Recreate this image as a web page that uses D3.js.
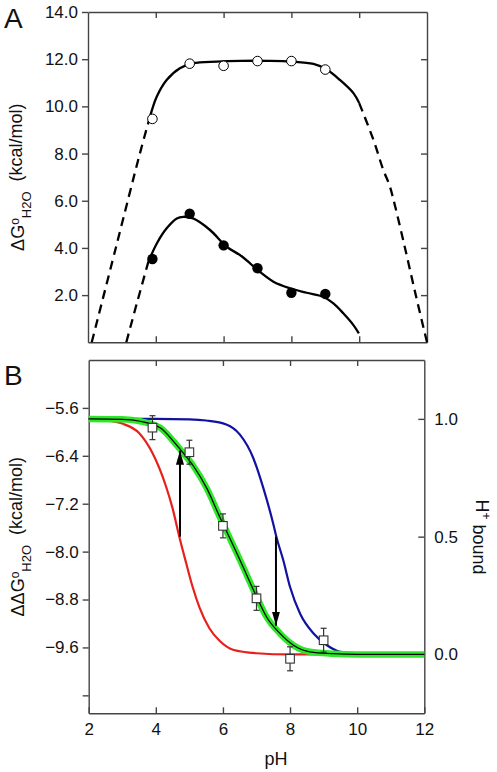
<!DOCTYPE html>
<html><head><meta charset="utf-8">
<script src="https://cdn.jsdelivr.net/npm/d3@7"></script>
<style>
body{margin:0;background:#fff}
svg{display:block}
text{font-family:"Liberation Sans",Arial,Helvetica,sans-serif;fill:#111}
</style>
</head><body>
<svg id="c" width="497" height="772"></svg>
<script>
// ---------- Panel A data ----------
const phA = [3.9, 5, 6, 7, 8, 9];
const openDG = [9.47, 11.81, 11.72, 11.92, 11.92, 11.56];
const filledDG = [3.53, 5.45, 4.11, 3.14, 2.10, 2.05];

const upSolidPH = [3.83, 4.03, 4.32, 4.71, 5.1, 5.8, 6.5, 7.3, 8.0, 8.65, 9.02, 9.43, 9.83, 10.0];
const upSolidDG = [9.57, 10.42, 11.12, 11.62, 11.83, 11.9, 11.93, 11.93, 11.9, 11.8, 11.58, 11.12, 10.56, 10.14];
const upDashLPH = [2.11, 2.82, 3.53, 3.83];
const upDashLDG = [0, 4.0, 8.0, 9.57];
const upDashRPH = [10.0, 10.42, 10.71, 10.89, 11.0, 11.32, 11.68, 12.0];
const upDashRDG = [10.14, 8.58, 7.31, 6.67, 6.11, 4.19, 1.93, 0];

const loSolidPH = [3.78, 4.03, 4.32, 4.62, 4.81, 5.1, 5.6, 6.09, 6.48, 6.78, 6.98, 7.47, 7.96, 8.45, 8.94, 9.24, 9.53, 9.83, 9.99];
const loSolidDG = [3.41, 4.19, 4.83, 5.25, 5.32, 5.25, 4.76, 4.05, 3.70, 3.35, 3.09, 2.57, 2.29, 2.10, 1.93, 1.65, 1.23, 0.73, 0.38];
const loDashPH = [3.13, 3.44, 3.78];
const loDashDG = [0, 1.65, 3.41];

const yTicksA = [2, 4, 6, 8, 10, 12, 14];
const xTicksInner = [4, 6, 8, 10];

// ---------- Panel B data ----------
const phB = [3.9, 5, 6, 7, 8, 9];
const ddG = [-5.93, -6.34, -7.57, -8.78, -9.79, -9.48];
const ddGerr = [0.2, 0.2, 0.2, 0.2, 0.2, 0.2];

const redPH = [2, 2.5, 3, 3.5, 3.9, 4.3, 4.5, 4.7, 4.9, 5.1, 5.3, 5.6, 5.9, 6.3, 7, 8, 12];
const redH = [1.0, 0.995, 0.98, 0.94, 0.855, 0.715, 0.62, 0.5, 0.39, 0.285, 0.2, 0.11, 0.058, 0.02, 0.005, 0, 0];
const bluePH = [2, 4, 5, 5.5, 6.1, 6.5, 6.9, 7.2, 7.5, 7.6, 7.8, 8.0, 8.3, 8.7, 9.1, 9.5, 10.1, 11, 12];
const blueH = [1, 1, 0.998, 0.993, 0.976, 0.934, 0.835, 0.708, 0.554, 0.495, 0.399, 0.286, 0.173, 0.089, 0.039, 0.011, 0.003, 0, 0];
const greenPH = [2, 3, 3.53, 4.13, 4.52, 4.77, 5.12, 5.52, 5.91, 6.21, 6.51, 7.01, 7.30, 7.70, 8.10, 8.59, 9.29, 10, 12];
const greenH = [1, 0.998, 0.99, 0.962, 0.906, 0.863, 0.8, 0.705, 0.582, 0.492, 0.4, 0.243, 0.159, 0.089, 0.039, 0.011, 0.003, 0, 0];

const arrowPH = [4.72, 7.58];
const arrowFrom = [0.5, 0.5];
const arrowTo = [0.865, 0.122];

const yTicksBL = [-5.6, -6.4, -7.2, -8.0, -8.8, -9.6, -10.4];
const yTicksBR = [0, 0.5, 1.0];
const xTicksB = [2, 4, 6, 8, 10, 12];

// ---------- drawing ----------
const svg = d3.select("#c");
const AX = "#444";
const FS = 17;

const xA = d3.scaleLinear().domain([2, 12]).range([88, 427]);
const yA = d3.scaleLinear().domain([0, 14]).range([342.3, 12]);
const xB = d3.scaleLinear().domain([2, 12]).range([88.7, 424.3]);
const yBL = d3.scaleLinear().domain([-10.7, -4.8]).range([713.3, 360]);
const yBR = d3.scaleLinear().domain([-0.25, 1.25]).range([713.3, 360]);

function styleAxis(g, showLabels) {
  g.attr("font-size", null).attr("font-family", null);
  g.select(".domain").attr("stroke", AX).attr("stroke-width", 1.4);
  g.selectAll(".tick line").attr("stroke", AX).attr("stroke-width", 1.4);
  g.selectAll(".tick text").style("font-size", FS + "px").attr("fill", "#111");
  if (!showLabels) g.selectAll(".tick text").remove();
}

// Panel A axes
svg.append("g").attr("transform", `translate(${xA.range()[0]},0)`)
  .call(d3.axisLeft(yA).tickValues(yTicksA).tickSize(6).tickSizeOuter(0).tickPadding(4).tickFormat(d3.format(".1f")))
  .call(g => styleAxis(g, true));
svg.append("g").attr("transform", `translate(${xA.range()[1]},0)`)
  .call(d3.axisLeft(yA).tickValues(yTicksA.slice(0, 6)).tickSize(6).tickSizeOuter(0))
  .call(g => styleAxis(g, false));
svg.append("g").attr("transform", `translate(0,${yA.range()[1]})`)
  .call(d3.axisBottom(xA).tickValues(xTicksInner).tickSize(6).tickSizeOuter(0))
  .call(g => styleAxis(g, false));
svg.append("g").attr("transform", `translate(0,${yA.range()[0]})`)
  .call(d3.axisTop(xA).tickValues(xTicksInner).tickSize(6).tickSizeOuter(0))
  .call(g => styleAxis(g, false));

const lineA = (px, py, curve) => d3.line().x((d, i) => xA(px[i])).y((d, i) => yA(py[i])).curve(curve)(px);

svg.append("path").attr("d", lineA(upSolidPH, upSolidDG, d3.curveCatmullRom))
  .attr("fill", "none").attr("stroke", "#000").attr("stroke-width", 2.3);
svg.append("path").attr("d", lineA(loSolidPH, loSolidDG, d3.curveCatmullRom))
  .attr("fill", "none").attr("stroke", "#000").attr("stroke-width", 2.3);
[[upDashLPH, upDashLDG], [upDashRPH, upDashRDG], [loDashPH, loDashDG]].forEach(([p, v]) => {
  svg.append("path").attr("d", lineA(p, v, d3.curveCatmullRom))
    .attr("fill", "none").attr("stroke", "#000").attr("stroke-width", 2.3)
    .attr("stroke-dasharray", "9,6");
});

svg.append("g").selectAll("circle").data(phA).join("circle")
  .attr("cx", d => xA(d)).attr("cy", (d, i) => yA(openDG[i])).attr("r", 4.8)
  .attr("fill", "#fff").attr("stroke", "#000").attr("stroke-width", 1);
svg.append("g").selectAll("circle").data(phA).join("circle")
  .attr("cx", d => xA(d)).attr("cy", (d, i) => yA(filledDG[i])).attr("r", 5.2)
  .attr("fill", "#000");

// Panel A labels
svg.append("text").attr("x", 4).attr("y", 28).style("font-size", "28px").text("A");
const tA = svg.append("text").attr("transform", `translate(24,${(yA.range()[0] + yA.range()[1]) / 2}) rotate(-90)`)
  .attr("text-anchor", "middle").style("font-size", "18px");
tA.append("tspan").text("ΔG");
tA.append("tspan").attr("dy", "-0.45em").style("font-size", "12px").text("o");
tA.append("tspan").attr("dy", "0.95em").style("font-size", "13px").text("H2O");
tA.append("tspan").attr("dy", "-0.5em").text("\u00a0\u00a0(kcal/mol)");

// Panel B axes
svg.append("g").attr("transform", `translate(${xB.range()[0]},0)`)
  .call(d3.axisLeft(yBL).tickValues(yTicksBL).tickSize(6).tickSizeOuter(0).tickPadding(4)
    .tickFormat(d => d === -10.4 ? "" : d3.format(".1f")(d)))
  .call(g => styleAxis(g, true));
svg.append("g").attr("transform", `translate(${xB.range()[1]},0)`)
  .call(d3.axisRight(yBR).tickValues(yTicksBR).tickSizeInner(-6).tickSizeOuter(0).tickPadding(10)
    .tickFormat(d3.format(".1f")))
  .call(g => styleAxis(g, true));
svg.append("g").attr("transform", `translate(0,${yBL.range()[0]})`)
  .call(d3.axisBottom(xB).tickValues(xTicksB).tickSizeInner(-6).tickSizeOuter(0).tickPadding(10)
    .tickFormat(d3.format("d")))
  .call(g => styleAxis(g, true));
svg.append("g").attr("transform", `translate(0,${yBL.range()[1]})`)
  .call(d3.axisBottom(xB).tickValues(xTicksInner).tickSize(6).tickSizeOuter(0))
  .call(g => styleAxis(g, false));

const lineB = (px, py) => d3.line().x((d, i) => xB(px[i])).y((d, i) => yBR(py[i])).curve(d3.curveMonotoneX)(px);

svg.append("path").attr("d", lineB(redPH, redH)).attr("fill", "none").attr("stroke", "#e8201c").attr("stroke-width", 2.2);
svg.append("path").attr("d", lineB(bluePH, blueH)).attr("fill", "none").attr("stroke", "#1212a0").attr("stroke-width", 2.2);
svg.append("path").attr("d", lineB(greenPH, greenH)).attr("fill", "none").attr("stroke", "#2ee62a").attr("stroke-width", 6.5);
svg.append("path").attr("d", lineB(greenPH, greenH)).attr("fill", "none").attr("stroke", "#000").attr("stroke-width", 1.2);

// arrows
svg.append("defs").append("marker").attr("id", "ah").attr("viewBox", "0 0 10 10")
  .attr("refX", 10).attr("refY", 5).attr("markerWidth", 7).attr("markerHeight", 7)
  .attr("markerUnits", "userSpaceOnUse").attr("orient", "auto")
  .append("path").attr("d", "M0,0 L10,5 L0,10 Z").attr("fill", "#000");
svg.append("g").selectAll("line").data(arrowPH).join("line")
  .attr("x1", d => xB(d)).attr("x2", d => xB(d))
  .attr("y1", (d, i) => yBR(arrowFrom[i])).attr("y2", (d, i) => yBR(arrowTo[i]))
  .attr("stroke", "#000").attr("stroke-width", 2)
  .attr("marker-end", "url(#ah)");
// override marker size for taller heads
svg.select("#ah").attr("markerWidth", 14).attr("markerHeight", 8).attr("viewBox", "0 0 14 8").attr("refX", 14).attr("refY", 4)
  .select("path").attr("d", "M0,0 L14,4 L0,8 Z");

// error bars + squares
const eb = svg.append("g").attr("stroke", "#333").attr("stroke-width", 1.2);
phB.forEach((p, i) => {
  const x = xB(p), y1 = yBL(ddG[i] + ddGerr[i]), y2 = yBL(ddG[i] - ddGerr[i]);
  eb.append("line").attr("x1", x).attr("x2", x).attr("y1", y1).attr("y2", y2);
  eb.append("line").attr("x1", x - 3).attr("x2", x + 3).attr("y1", y1).attr("y2", y1);
  eb.append("line").attr("x1", x - 3).attr("x2", x + 3).attr("y1", y2).attr("y2", y2);
});
svg.append("g").selectAll("rect").data(phB).join("rect")
  .attr("x", d => xB(d) - 4.3).attr("y", (d, i) => yBL(ddG[i]) - 4.3)
  .attr("width", 8.6).attr("height", 8.6)
  .attr("fill", "#fff").attr("stroke", "#333").attr("stroke-width", 1.1);

// Panel B labels
svg.append("text").attr("x", 4).attr("y", 385).style("font-size", "28px").text("B");
const tB = svg.append("text").attr("transform", `translate(24,${(yBL.range()[0] + yBL.range()[1]) / 2}) rotate(-90)`)
  .attr("text-anchor", "middle").style("font-size", "18px");
tB.append("tspan").text("ΔΔG");
tB.append("tspan").attr("dy", "-0.45em").style("font-size", "12px").text("o");
tB.append("tspan").attr("dy", "0.95em").style("font-size", "13px").text("H2O");
tB.append("tspan").attr("dy", "-0.5em").text("\u00a0\u00a0(kcal/mol)");

const tR = svg.append("text").attr("transform", `translate(476,537) rotate(90)`)
  .attr("text-anchor", "middle").style("font-size", "18px");
tR.append("tspan").text("H");
tR.append("tspan").attr("dy", "-0.5em").style("font-size", "12px").text("+");
tR.append("tspan").attr("dy", "0.5em").text(" bound");

svg.append("text").attr("x", 276).attr("y", 765).attr("text-anchor", "middle").style("font-size", "18px").text("pH");
</script>
</body></html>
